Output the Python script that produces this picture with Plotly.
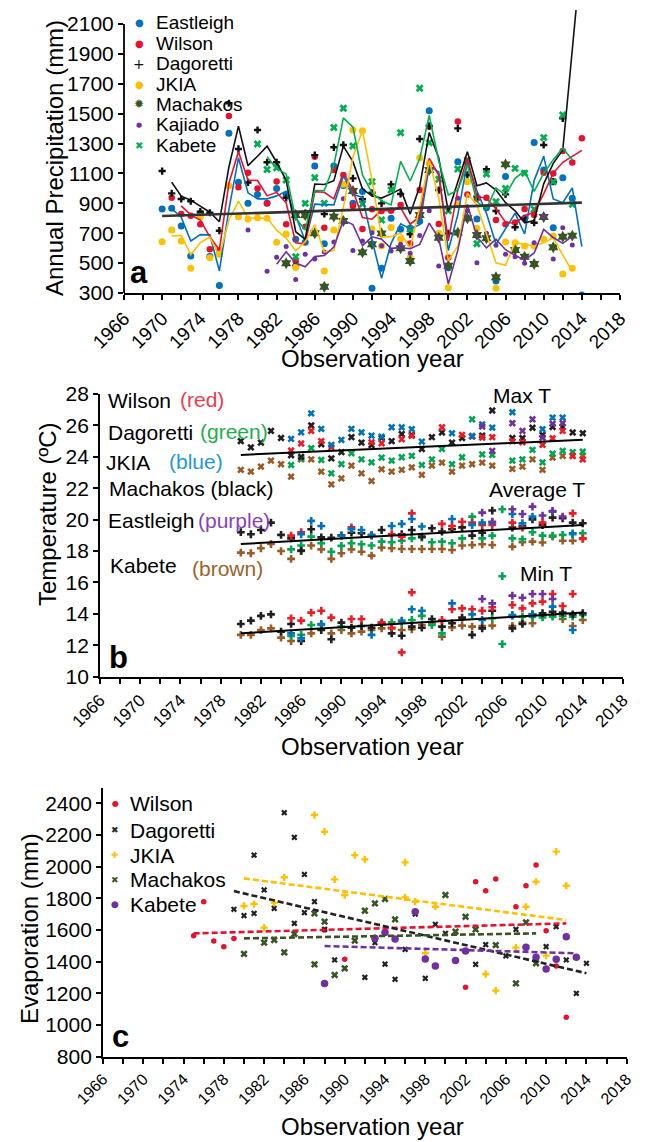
import numpy as np
import pandas as pd
import plotly.graph_objects as go

W, H = 645, 1142
OX, OY = 8, 8          # default page margin of the html body
FW, FH = W - OX, H - OY
FONT = "Liberation Sans, Arial, Helvetica, sans-serif"

# ------------------------------------------------------------------
# Panel a : annual precipitation (mm), 1970-2014
# ------------------------------------------------------------------
years_a = list(range(1970, 2015))
eastleigh_p = [862, 867, 748, 548, 833, 545, 350, 1369, 1041, 900,
               960, 900, 1000, 960, 660, 640, 1150, 630, 1150, 1020,
               900, 980, 331, 465, 800, 726, 735, 780, 1520, 699,
               469, 1179, 1174, 795, 871, 380, 1080, 590, 800, 1308,
               1123, 737, 1072, 934, 286]
wilson_p = [None, 938, 829, 817, 760, 592, 584, 1485, 1007, 1105,
            1000, 900, 1047, 760, 512, 744, 1212, 737, 1123, 1090,
            882, 728, 860, 849, 851, 889, 632, 989, 1413, 762,
            537, 1447, 960, 930, 938, 789, 760, 771, 862, 822,
            1105, 1100, 1250, 1174, 1335]
dagoretti_p = [1116, 967, 929, 914, 844, 837, 717, 1570, 1264, 1040,
               1391, 1175, 1175, 937, 483, 835, 1223, 829, 1275, 1291,
               1067, 927, 971, 900, 1027, 963, 693, 1331, 1418, 989,
               699, 1402, 1090, 945, 1128, 849, 960, 740, 800, 770,
               1291, 1045, 1469, 2390, 2836]
jkia_p = [643, 722, 648, 465, 811, 536, 559, 1018, 811, 795,
          804, 800, 640, 695, 470, 815, 700, 447, 722, 1027,
          1391, 1386, 728, 615, 739, 661, 537, 1206, 1168, 700,
          335, 890, 1045, 733, 672, 331, 641, 637, 615, 615,
          659, 681, 427, 465, None]
machakos_p = [None, None, None, None, None, None, None, None, None, None,
              None, None, None, 499, 822, 822, 700, 342, 811, 782,
              983, 572, 626, 699, None, 599, 514, 822, 1123, 670,
              483, 704, 800, 688, 666, 405, 1161, 588, 543, 494,
              809, 606, 677, 684, None]
kajiado_p = [None, None, None, None, None, None, None, None, None, 722,
             None, 445, 540, 612, 390, 560, 527, 575, 641, 931,
             585, 648, 704, 617, 581, 626, 566, 684, 851, 481,
             240, 934, 851, 503, 700, 620, 560, 543, 499, 637,
             815, 528, 737, 621, None]
kabete_p = [None, None, None, None, None, None, None, None, None, None,
            1297, 1127, 1138, 1056, 543, 900, 1072, 900, 1408, 1536,
            1284, 896, 1045, 789, 989, 1373, 726, 1670, 1306, 1061,
            851, 1130, 1190, 630, 1096, 911, 1000, 1134, 1101, 860,
            1340, 1045, 1491, 893, None]
trend_a_years = [1970, 2014]
trend_a_vals = [815, 905]

# ------------------------------------------------------------------
# Panel b : temperature (deg C), 1980-2014
# ------------------------------------------------------------------
years_b = list(range(1980, 2015))
N5 = [None] * 5
mach_max = [25.0, 24.6, 24.9, 25.65, 25.2, 24.1, 24.0, 26.0, 24.8, 23.9,
            24.3, 25.25, 24.9, 24.75, 25.2, 25.0, 25.45, 25.4, 24.5, 25.25,
            25.55, 24.9, 25.2, 25.3, 25.35, 26.95, None, 25.2, 25.2, 25.85,
            25.4, 25.9, 25.9, 25.55, 25.5]
wil_max = N5 + [24.4, 24.85, 25.65, 25.0, 24.6,
                None, None, None, 24.93, 24.86, None, 25.12, 25.33, None, None,
                25.88, None, 25.4, 25.3, 25.22, 25.25, None, 25.0, 24.93, None,
                24.76, 25.18, 25.65, 24.06, 23.84]
dag_max = N5 + [23.48, 23.91, 24.55, 23.8, 22.95,
                23.53, 24.23, 23.84, 23.65, 23.95, 23.76, 23.97, 24.06, 23.48, 23.84,
                24.5, 23.53, 23.97, 26.39, 24.16, 24.12, None, 23.76, 23.84, 24.44,
                23.65, 24.2, 24.38, 24.3, 24.33]
jkia_max = N5 + [25.14, 25.56, 26.77, 25.78, 24.76,
                 25.08, 25.78, 25.56, 25.35, 25.29, 25.88, 25.88, 25.76, 24.97, None,
                 None, 25.5, None, 25.33, 26.07, 25.86, None, 26.84, None, None,
                 25.76, 26.5, 26.5, None, None]
east_max = [None] * 24 + [25.93, 24.38, None, 26.14, 25.65, 26.39,
                          25.22, 26.1, 26.14, None, None]
kab_max = [23.17, 23.06, 23.38, 23.76, 23.53, 22.74, 23.84, 23.84, 23.06, 22.25,
           22.63, 23.44, 22.95, 22.46, 23.21, 23.06, 23.17, 23.33, 22.85, 23.44,
           23.63, 23.06, 23.44, 23.53, 23.63, 23.44, None, 23.23, 23.38, 23.84,
           23.17, 23.95, 24.06, 24.06, 24.06]

mach_avg = [19.2, 19.07, 19.34, 19.81, 19.03, 18.81, 18.03, 19.39, 18.87, 18.85,
            19.0, 19.17, 19.13, 18.98, 19.34, None, 19.07, 19.34, 18.92, 19.45,
            19.24, 19.39, 19.51, 18.98, 19.17, 20.58, None, 19.5, 19.6, 20.02,
            19.66, 20.13, 20.09, 19.81, 19.77]
wil_avg = N5 + [18.98, 19.2, None, None, None,
                None, 19.51, None, None, None, 19.07, 18.92, 20.4, None, None,
                19.73, 19.6, 19.87, 19.81, 19.66, 19.66, None, 19.81, 19.5, None,
                19.81, None, None, 20.4, 18.81]
dag_avg = N5 + [18.11, 18.35, 18.92, 18.5, 17.96,
                18.33, 18.5, 18.43, 18.35, 18.6, 18.56, 18.66, 18.81, 18.86, 18.56,
                18.6, 18.5, 18.81, 20.19, 18.81, 18.98, 20.66, 18.81, 18.75, 19.2,
                18.98, 18.98, 19.03, 19.07, 19.13]
jkia_avg = N5 + [None, 19.07, 19.92, 19.6, None,
                 18.98, 19.39, 19.34, 19.03, None, 19.6, 19.73, 20.04, 19.56, None,
                 None, 20.04, None, 19.66, 19.81, 19.81, None, 20.36, 19.77, 20.19,
                 None, 20.51, None, 19.13, None]
east_avg = [None] * 24 + [20.45, 19.87, None, 20.66, 20.36, 20.83,
                          20.26, 20.55, 20.19, None, None]
kab_avg = [17.9, 17.86, 18.18, 18.45, 18.0, 17.5, 18.0, 18.35, 18.11, 17.5,
           17.86, 18.11, 17.96, 17.71, 18.22, 18.18, 18.13, 18.13, 18.13, 18.13,
           18.13, 18.07, 18.35, 18.39, 18.43, 18.39, None, 18.28, 18.56, 18.6,
           18.54, 18.92, 18.66, 18.66, 18.77]

mach_min = [13.36, 13.57, 13.87, 13.97, 12.87, 13.36, 12.27, None, 12.97, 12.38,
            13.44, 13.12, 13.23, 13.12, 13.4, 12.76, 12.61, 13.19, 13.12, 13.67,
            13.19, 13.4, 13.76, 12.66, 13.08, 14.2, None, 13.08, 13.36, 13.97,
            14.04, 14.14, 14.08, 13.97, 14.04]
wil_min = N5 + [13.72, 13.57, 14.08, 14.2, 13.76,
                None, 13.67, 13.67, None, 13.46, 13.12, 11.55, 15.37, None, None,
                13.61, 14.29, 14.35, 14.29, 14.2, 14.42, None, 14.57, 14.35, 14.67,
                14.78, 15.27, 14.5, 15.27, None]
dag_min = N5 + [12.59, 12.66, 13.29, 13.3, None,
                13.2, None, None, None, 13.35, 13.46, 13.46, 13.61, 13.87, 13.29,
                12.76, None, None, None, None, 13.72, 12.08, 13.87, 13.82, 13.8,
                13.78, 13.82, 13.87, 13.82, 13.93]
jkia_min = N5 + [12.76, 12.44, None, 13.36, None,
                 None, None, None, 12.66, None, None, 13.57, 14.29, 14.2, None,
                 None, 14.67, None, 13.97, 13.61, None, None, 13.93, None, 13.97,
                 None, 14.46, None, 12.97, None]
east_min = [None] * 24 + [14.95, 14.67, None, 15.16, 15.03, 15.27,
                          15.27, 14.95, None, None, None]
kab_min = [12.66, 12.66, 12.97, 13.08, 12.49, 12.27, None, 12.76, None, 12.76,
           12.97, 12.76, 12.87, 12.97, 13.08, 13.08, 12.97, 13.02, 13.29, 13.4,
           12.55, 13.14, 13.25, 13.19, 13.23, 13.25, None, 13.23, 13.44, 13.4,
           13.89, 13.93, 13.67, 13.23, 13.61]
dag_extra_years = [2006]
dag_extra_vals = [16.4]

trend_b_years = [1980, 2014]
trend_max = [24.12, 25.08]
trend_avg = [18.45, 19.66]
trend_min = [12.76, 14.08]

# ------------------------------------------------------------------
# Panel c : evaporation (mm)
# ------------------------------------------------------------------
wil_e_years = [1975, 1976, 1977, 1978, 1979, 1988, 1990, 2002, 2003, 2004,
               2005, 2007, 2008, 2009, 2010, 2011, 2012]
wil_e = [1564, 1779, 1531, 1495, 1547, 1600, 1415, 1238, 1905, 1848,
         1922, 1747, 1880, 2010, 1596, 1373, 1049]
dag_e_years = [1979, 1980, 1981, 1981, 1982, 1983, 1984, 1985, 1985, 1986,
               1986, 1987, 1988, 1989, 1992, 1993, 1994, 1995, 1996, 1997,
               1998, 1999, 2000, 2003, 2004, 2006, 2007, 2009, 2010, 2011,
               2012, 2013, 2014]
dag_e = [1731, 1691, 2073, 1705, 1853, 1737, 2341, 2185, 1642, 1951,
         1710, 1779, 1604, 1411, 1301, 1520, 1385, 1289, 1478, 1701,
         1295, 1636, 1579, 1383, 1508, 1436, 1604, 1411, 1495, 1621,
         1411, 1200, 1390]
jkia_e_years = [1980, 1981, 1982, 1983, 1984, 1987, 1988, 1989, 1990, 1991,
                1992, 1996, 1996, 1997, 1998, 1999, 2004, 2005, 2007, 2008,
                2009, 2010, 2011, 2012]
jkia_e = [1752, 1764, 1615, 1773, 1933, 2326, 2221, 1920, 1821, 2073,
          2046, 2027, 1806, 1779, 1453, 1747, 1322, 1217, 1489, 1747,
          1905, 1438, 2095, 1880]
mach_e_years = [1980, 1982, 1983, 1984, 1985, 1987, 1987, 1988, 1989, 1990,
                1991, 1992, 1993, 1994, 1995, 2000, 2001, 2002, 2003, 2005,
                2007, 2008, 2009]
mach_e = [1449, 1520, 1537, 1459, 1575, 1705, 1383, 1653, 1316, 1358,
          1533, 1722, 1768, 1796, 1667, 1821, 1590, 1684, 1604, 1505,
          1263, 1648, 1390]
kab_e_years = [1988, 1993, 1994, 1995, 1997, 1998, 1999, 2001, 2002, 2008,
               2009, 2010, 2011, 2012, 2013]
kab_e = [1263, 1548, 1585, 1543, 1716, 1417, 1373, 1407, 1468, 1491,
         1428, 1354, 1415, 1558, 1428]

wil_tr_years, wil_tr = [1975, 2012], [1579, 1642]
dag_tr_years, dag_tr = [1979, 2014], [1846, 1327]
jkia_tr_years, jkia_tr = [1980, 2012], [1926, 1663]
mach_tr_years, mach_tr = [1980, 2009], [1547, 1579]
kab_tr_years, kab_tr = [1988, 2013], [1499, 1453]

# ------------------------------------------------------------------
C_BLUE = "#0070C0"
C_RED = "#E8112D"
C_BLACK = "#111111"
C_YEL = "#FFC000"
C_DKG = "#375623"
C_PUR = "#7030A0"
C_GRN = "#00B050"

fig = go.Figure()


def ma2(vals):
    s = pd.Series([np.nan if v is None else v for v in vals], dtype=float)
    return s.rolling(2).mean().tolist()


def pts(x, y, color, symbol, size, xa, ya, lw=0):
    fig.add_trace(go.Scatter(x=x, y=y, mode="markers", xaxis=xa, yaxis=ya,
                             marker=dict(color=color, symbol=symbol, size=size,
                                         line=dict(width=lw, color=color)),
                             showlegend=False, hoverinfo="skip"))


def line(x, y, color, width, xa, ya, dash="solid"):
    fig.add_trace(go.Scatter(x=x, y=y, mode="lines", xaxis=xa, yaxis=ya,
                             line=dict(color=color, width=width, dash=dash),
                             connectgaps=False, showlegend=False, hoverinfo="skip"))


# ---- panel a traces
series_a = [
    (eastleigh_p, C_BLUE, "circle", 7, True),
    (wilson_p, C_RED, "circle", 6.5, True),
    (dagoretti_p, C_BLACK, "cross", 6, True),
    (jkia_p, C_YEL, "circle", 7, True),
    (machakos_p, C_DKG, "hexagram", 9, False),
    (kajiado_p, C_PUR, "circle", 5, True),
    (kabete_p, C_GRN, "x", 7, True),
]
for vals, col, sym, sz, has_line in series_a:
    pts(years_a, vals, col, sym, sz, "x", "y")
for vals, col, sym, sz, has_line in series_a:
    if has_line:
        line(years_a, ma2(vals), col, 1.6, "x", "y")
line(trend_a_years, trend_a_vals, "#333333", 2.6, "x", "y")

# ---- panel b traces
B_RED, B_GRN, B_BLU, B_BLK, B_PUR, B_BRN = "#ED1C24", "#00A651", "#0072BC", "#231F20", "#7030A0", "#9C5B25"
for vals, col in [(kab_max, B_BRN), (dag_max, B_GRN), (mach_max, B_BLK), (wil_max, B_RED),
                  (jkia_max, B_BLU), (east_max, B_PUR)]:
    pts(years_b, vals, col, "x", 6.5, "x2", "y2")
for group in [[(kab_avg, B_BRN), (dag_avg, B_GRN), (mach_avg, B_BLK), (wil_avg, B_RED),
               (jkia_avg, B_BLU), (east_avg, B_PUR)],
              [(kab_min, B_BRN), (dag_min, B_GRN), (mach_min, B_BLK), (wil_min, B_RED),
               (jkia_min, B_BLU), (east_min, B_PUR)]]:
    for vals, col in group:
        pts(years_b, vals, col, "cross", 6.5, "x2", "y2")
pts(dag_extra_years, dag_extra_vals, B_GRN, "cross", 6.5, "x2", "y2")
for tr in (trend_max, trend_avg, trend_min):
    line(trend_b_years, tr, "black", 2, "x2", "y2")

# ---- panel c traces
pts(wil_e_years, wil_e, C_RED, "circle", 5.5, "x3", "y3")
pts(dag_e_years, dag_e, "#222222", "x", 5.5, "x3", "y3")
pts(jkia_e_years, jkia_e, C_YEL, "cross", 6, "x3", "y3")
pts(mach_e_years, mach_e, C_DKG, "x", 6.5, "x3", "y3")
pts(kab_e_years, kab_e, C_PUR, "circle", 7.5, "x3", "y3")
DASH = "6px,3px"
line(wil_tr_years, wil_tr, C_RED, 2.6, "x3", "y3", DASH)
line(dag_tr_years, dag_tr, "#222222", 2.6, "x3", "y3", DASH)
line(jkia_tr_years, jkia_tr, C_YEL, 2.6, "x3", "y3", DASH)
line(mach_tr_years, mach_tr, C_DKG, 2.6, "x3", "y3", DASH)
line(kab_tr_years, kab_tr, C_PUR, 2.6, "x3", "y3", DASH)


# ------------------------------------------------------------------
def px(x):
    return (x - OX) / FW


def py(y):
    return 1 - (y - OY) / FH


def xax(dom, anchor, fsize):
    return dict(domain=dom, anchor=anchor, range=[1966, 2018], tick0=1966, dtick=4,
                ticks="outside", ticklen=5, tickwidth=1.5, tickcolor="black",
                tickangle=-45, tickfont=dict(size=fsize, family=FONT, color="black"),
                showline=True, linecolor="black", linewidth=1.8, showgrid=False,
                zeroline=False, automargin=False,
                minor=dict(dtick=2, tick0=1966, ticks="outside", ticklen=5,
                           tickwidth=1.5, tickcolor="black", showgrid=False))


def yax(dom, anchor, rng, tickvals, fsize, showline=True):
    return dict(domain=dom, anchor=anchor, range=rng, tickvals=tickvals,
                ticks="outside", ticklen=5, tickwidth=1.5, tickcolor="black",
                tickfont=dict(size=fsize, family=FONT, color="black"),
                showline=showline, linecolor="black", linewidth=1.8, showgrid=False,
                zeroline=False, automargin=False)


annots = []


def txt(x, y, s, size, color="black", xanchor="left", angle=0):
    annots.append(dict(x=px(x), y=py(y), xref="paper", yref="paper", text=s,
                       showarrow=False, xanchor=xanchor, yanchor="middle",
                       textangle=angle, font=dict(size=size, color=color, family=FONT)))


GLYPH = "DejaVu Sans, sans-serif"


def glyph(x, y, s, size, color):
    annots.append(dict(x=px(x), y=py(y), xref="paper", yref="paper", text=s,
                       showarrow=False, xanchor="center", yanchor="middle",
                       font=dict(size=size, color=color, family=GLYPH)))


# legend a
leg_a = [("Eastleigh", 22.5, "●", 10, C_BLUE), ("Wilson", 43, "●", 10, C_RED),
         ("Dagoretti", 63.5, "+", 14, C_BLACK), ("JKIA", 84, "●", 10, C_YEL),
         ("Machakos", 104.5, "✹", 12, C_DKG), ("Kajiado", 125, "●", 7, C_PUR),
         ("Kabete", 145.5, "✖", 10, C_GRN)]
for name, yy, g, gs, col in leg_a:
    glyph(139, yy, g, gs, col)
    txt(154, yy, name, 19)
txt(139, 272, "<b>a</b>", 31, xanchor="center")
txt(54, 158, "Annual Precipitation (mm)", 24, xanchor="center", angle=-90)
txt(372, 358, "Observation year", 24, xanchor="center")

# panel b labels
txt(106, 401, "Wilson", 21)
txt(178, 399, "(red)", 21, "#EE3A4F")
txt(106, 432, "Dagoretti", 21)
txt(198, 431, "(green)", 21, "#1DB04B")
txt(104, 462, "JKIA", 21)
txt(167, 461, "(blue)", 21, "#1E9AD6")
txt(107, 489, "Machakos (black)", 21)
txt(106, 520, "Eastleigh", 21)
txt(196, 520, "(purple)", 21, "#8A3FC2")
txt(108, 565, "Kabete", 21)
txt(190, 568, "(brown)", 21, "#A0612A")
txt(491, 395, "Max T", 21)
txt(487, 490, "Average T", 21)
txt(518, 573, "Min T", 21)
txt(118, 657, "<b>b</b>", 31, xanchor="center")
txt(47, 515, "Temperature (ºC)", 24, xanchor="center", angle=-90)
txt(372, 746, "Observation year", 24, xanchor="center")

# legend c
leg_c = [("Wilson", 803.5, "●", 8, C_RED), ("Dagoretti", 830, "✖", 9, "#222222"),
         ("JKIA", 855, "✚", 9, C_YEL), ("Machakos", 879.5, "✖", 9, C_DKG),
         ("Kabete", 904, "●", 9, C_PUR)]
for name, yy, g, gs, col in leg_c:
    glyph(115, yy, g, gs, col)
    txt(128, yy, name, 21)
txt(120, 1036, "<b>c</b>", 31, xanchor="center")
txt(29, 929, "Evaporation (mm)", 24, xanchor="center", angle=-90)
txt(372, 1126, "Observation year", 24, xanchor="center")

fig.update_layout(
    width=FW, height=FH, margin=dict(l=0, r=0, t=0, b=0),
    paper_bgcolor="white", plot_bgcolor="rgba(0,0,0,0)", showlegend=False,
    font=dict(family=FONT, color="black"),
    xaxis=xax([px(124), px(620)], "y", 19),
    yaxis=yax([py(293), py(10)], "x", [300, 2194], list(range(300, 2101, 200)), 21,
              showline=False),
    xaxis2=xax([px(100), px(623)], "y2", 17),
    yaxis2=yax([py(676.7), py(394)], "x2", [10, 28], list(range(10, 29, 2)), 21),
    xaxis3=xax([px(103), px(626.7)], "y3", 16),
    yaxis3=yax([py(1056.7), py(788.3)], "x3", [800, 2495], list(range(800, 2401, 200)), 21),
    annotations=annots,
    shapes=[dict(type="line", xref="paper", yref="y", x0=px(124), x1=px(124),
                 y0=300, y1=2100, line=dict(color="black", width=1.8))],
)

fig.write_html("out.html")
